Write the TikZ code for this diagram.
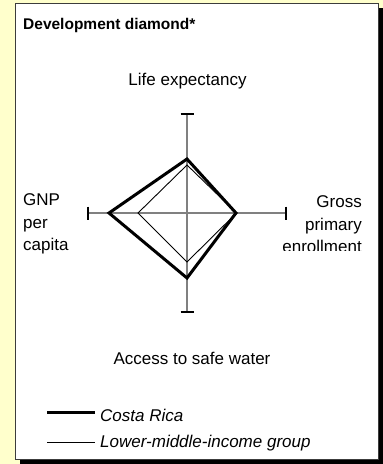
\documentclass[tikz,border=0pt]{standalone}
\usepackage{fontspec}
\setmainfont{Liberation Sans}
\usetikzlibrary{calc}
\definecolor{paleyellow}{RGB}{255,255,204}
\definecolor{axisgray}{RGB}{128,128,128}
\definecolor{framegray}{RGB}{60,60,60}

\begin{document}
\begin{tikzpicture}[x=1pt,y=-1pt,line join=miter,
  lbl/.style={inner sep=0pt,font=\fontsize{17}{22.5}\selectfont},
  axisline/.style={axisgray,line width=1.5pt},
  tickline/.style={black,line width=2pt},
  country/.style={black,line width=3pt},
  group/.style={black,line width=0.9pt}]
  \fill[paleyellow] (0,0) rectangle (383,464);
  \fill[black] (20,8) rectangle (383,464);
  \filldraw[fill=white,draw=framegray,line width=1pt] (15,3) rectangle (378,459);
  \useasboundingbox (0,0) rectangle (383,464);
  \node[anchor=base west,inner sep=0pt,font=\bfseries\fontsize{15.5}{18}\selectfont] (title) at (23,29.5) {Development diamond*};
  % axes with end ticks
  \coordinate (o) at (187,213);
  \coordinate (n) at (187,114); \coordinate (s) at (187,312);
  \coordinate (w) at (88,213); \coordinate (e) at (286,213);
  \draw[axisline] (n) -- (s); \draw[axisline] (w) -- (e);
  \foreach \p in {n,s}{\draw[tickline] ($(\p)+(-6.5,0)$) -- ($(\p)+(6.5,0)$);}
  \foreach \p in {w,e}{\draw[tickline] ($(\p)+(0,-6.5)$) -- ($(\p)+(0,6.5)$);}
  % lower-middle-income group, then Costa Rica
  \coordinate (gn) at (187,165); \coordinate (ge) at (236.5,213);
  \coordinate (gs) at (187,262); \coordinate (gw) at (138,213);
  \coordinate (cn) at (187,159); \coordinate (ce) at (236,213);
  \coordinate (cs) at (187,278); \coordinate (cw) at (109,213);
  \draw[group] (gn) -- (ge) -- (gs) -- (gw) -- cycle;
  \draw[country] (cn) -- (ce) -- (cs) -- (cw) -- cycle;
  % axis labels
  \node[lbl,anchor=base] (life) at (187.5,85) {Life expectancy};
  \node[lbl,anchor=base] (water) at (192,364) {Access to safe water};
  \node[lbl,anchor=base west,align=left] (gnp) at (23,250.5) {GNP\\per\\capita};
  \begin{scope}
    \clip (280,180) rectangle (378,250);
    \node[lbl,anchor=base east,align=right] (gross) at (362,252.5) {Gross\\primary\\enrollment};
  \end{scope}
  % legend
  \coordinate (k1a) at (47,412.7); \coordinate (k1b) at (95,412.7);
  \coordinate (k2a) at (47,442.3); \coordinate (k2b) at (95,442.3);
  \draw[country] (k1a) -- (k1b); \draw[group] (k2a) -- (k2b);
  \node[lbl,anchor=base west,font=\itshape\fontsize{17}{20}\selectfont] (costa) at (100,421.5) {Costa Rica};
  \node[lbl,anchor=base west,font=\itshape\fontsize{17}{20}\selectfont] (lmi) at (100,447.5) {Lower-middle-income group};
\end{tikzpicture}
\end{document}
